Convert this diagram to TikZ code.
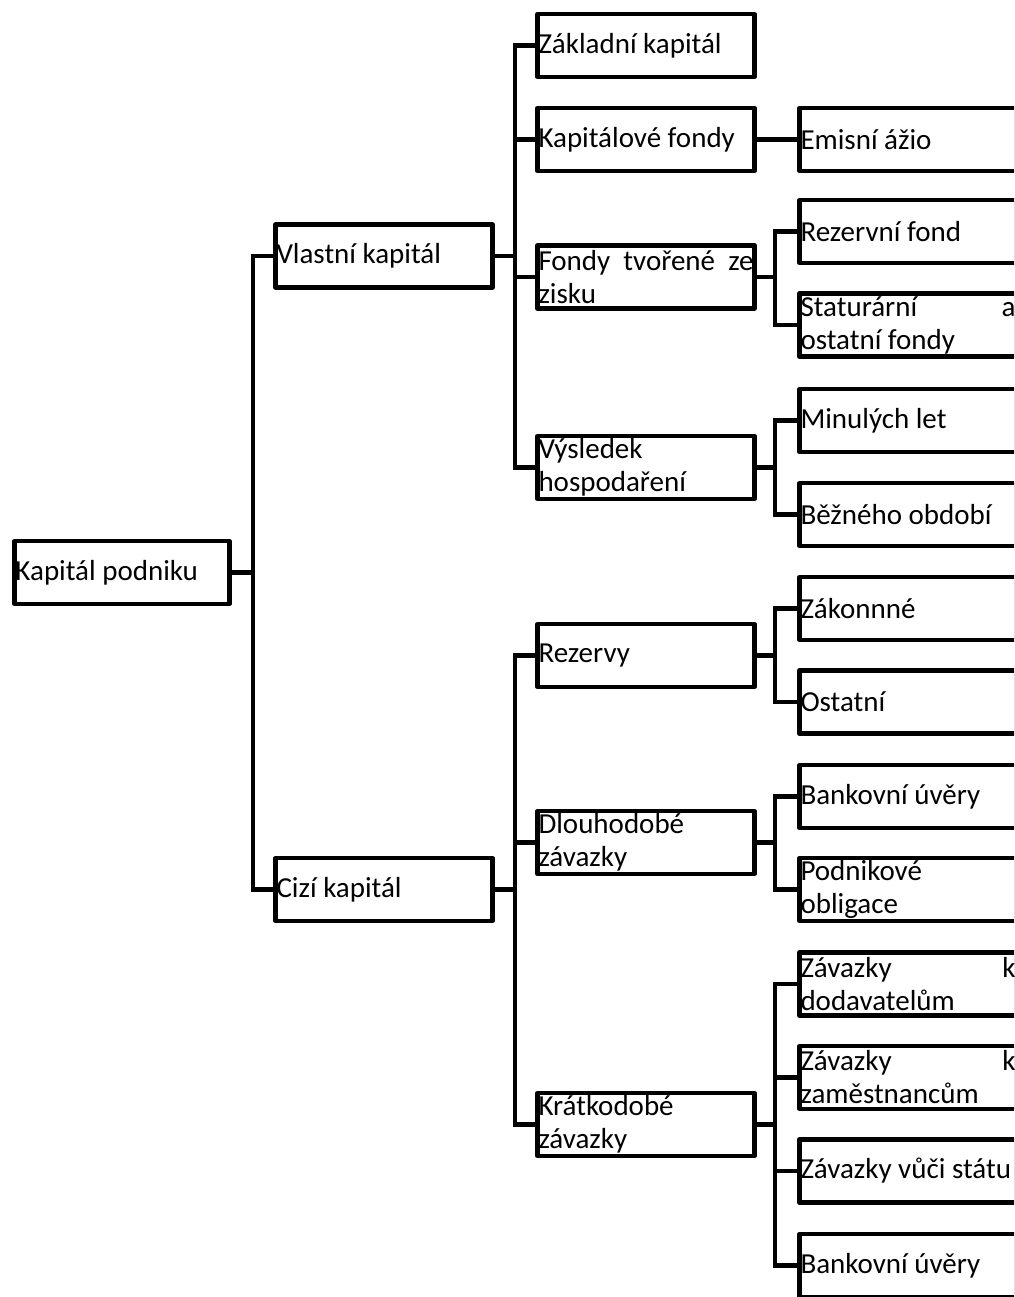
\documentclass[tikz,border=0pt]{standalone}
\usepackage{fontspec}
\setmainfont{Carlito}
\begin{document}
\begin{tikzpicture}[x=1pt,y=-1pt,
  box/.style={draw, line width=4.2pt, line join=round, rectangle, minimum height=63pt,
    inner xsep=1pt, inner ysep=0pt, text width=215pt, align=flush left,
    font=\fontsize{29}{33}\selectfont, anchor=center},
  conn/.style={line width=4.2pt, line cap=rect, line join=miter}]
\useasboundingbox (0,0) rectangle (1014,1297);
\clip (0,0) rectangle (1014,1297);
\fill[white] (0,0) rectangle (1014,1297);

\node[box, text width=213pt] (root) at (122,572.5) {Kapitál podniku};
\node[box] (vl) at (384,256) {Vlastní kapitál};
\node[box] (ci) at (384,889.5) {Cizí kapitál};

\node[box] (zk) at (646,45.5) {Základní kapitál};
\node[box] (kf) at (646,139.5) {Kapitálové fondy};
\node[box] (ft) at (646,277) {Fondy \hfill tvořené \hfill ze\\zisku};
\node[box] (vh) at (646,467.5) {Výsledek\\hospodaření};
\node[box] (rz) at (646,655.5) {Rezervy};
\node[box] (dz) at (646,842.5) {Dlouhodobé\\závazky};
\node[box] (kz) at (646,1124.5) {Krátkodobé\\závazky};

\node[box] (ea) at (908,139.5) {Emisní ážio};
\node[box] (rf) at (908,231.5) {Rezervní fond};
\node[box] (sf) at (908,325) {Staturární \hfill a\\ostatní fondy};
\node[box] (ml) at (908,420.5) {Minulých let};
\node[box] (bo) at (908,514.5) {Běžného období};
\node[box] (zn) at (908,608.5) {Zákonnné};
\node[box] (os) at (908,702) {Ostatní};
\node[box] (bu) at (908,796.5) {Bankovní úvěry};
\node[box] (po) at (908,889.5) {Podnikové\\obligace};
\node[box] (zd) at (908,984) {Závazky \hfill k\\dodavatelům};
\node[box] (zz) at (908,1077.5) {Závazky \hfill k\\zaměstnancům};
\node[box] (zs) at (908,1171) {Závazky~vůči~státu};
\node[box] (bk) at (908,1265.5) {Bankovní úvěry};

\coordinate (b1) at (253,0);
\coordinate (b2) at (515,0);
\coordinate (b3) at (775,0);

\foreach \p/\b/\cs in {root/b1/{vl,ci}, vl/b2/{zk,kf,ft,vh}, ci/b2/{rz,dz,kz},
    kf/b3/{ea}, ft/b3/{rf,sf}, vh/b3/{ml,bo}, rz/b3/{zn,os}, dz/b3/{bu,po},
    kz/b3/{zd,zz,zs,bk}} {
  \draw[conn] (\p.east) -- (\p.east -| \b);
  \foreach \c in \cs {
    \draw[conn] (\c.west) -- (\c.west -| \b) -- (\p.east -| \b);
  }
}
\end{tikzpicture}
\end{document}
